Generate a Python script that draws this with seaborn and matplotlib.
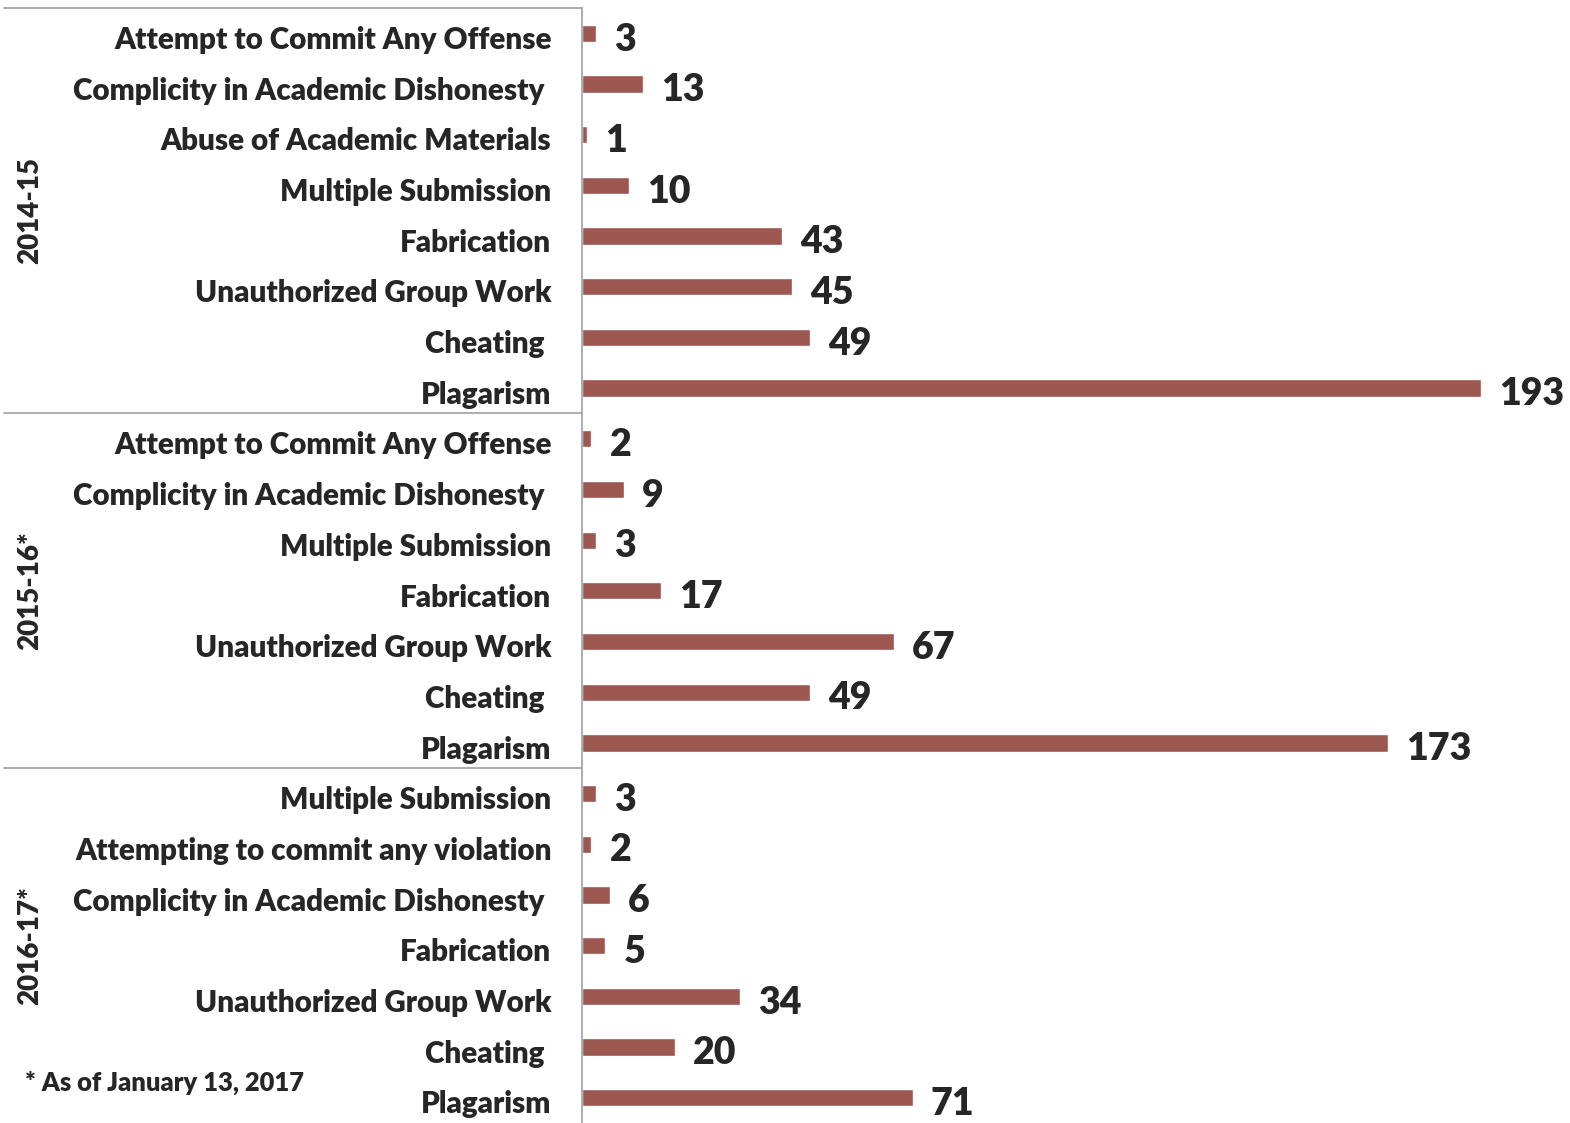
import pandas as pd
import matplotlib.pyplot as plt
import matplotlib.transforms as mtransforms
import seaborn as sns

# data, top to bottom
years = ['2014-15', '2015-16*', '2016-17*']
labels_1415 = ['Attempt to Commit Any Offense', 'Complicity in Academic Dishonesty ', 'Abuse of Academic Materials',
               'Multiple Submission', 'Fabrication', 'Unauthorized Group Work', 'Cheating ', 'Plagarism']
values_1415 = [3, 13, 1, 10, 43, 45, 49, 193]
labels_1516 = ['Attempt to Commit Any Offense', 'Complicity in Academic Dishonesty ', 'Multiple Submission',
               'Fabrication', 'Unauthorized Group Work', 'Cheating ', 'Plagarism']
values_1516 = [2, 9, 3, 17, 67, 49, 173]
labels_1617 = ['Multiple Submission', 'Attempting to commit any violation', 'Complicity in Academic Dishonesty ',
               'Fabrication', 'Unauthorized Group Work', 'Cheating ', 'Plagarism']
values_1617 = [3, 2, 6, 5, 34, 20, 71]
footnote = '* As of January 13, 2017'

labels = labels_1415 + labels_1516 + labels_1617
values = values_1415 + values_1516 + values_1617
groups = [years[0]] * len(labels_1415) + [years[1]] * len(labels_1516) + [years[2]] * len(labels_1617)
df = pd.DataFrame({'row': [str(i) for i in range(len(labels))], 'label': labels,
                   'value': values, 'year': groups})

sns.set_style('white')
plt.rcParams['font.family'] = ['Lato', 'DejaVu Sans']
W = 'heavy'

fig = plt.figure(figsize=(15.7, 11.23), dpi=100)
ax = fig.add_axes([582 / 1570, 0, 1 - 582 / 1570, 1 - 8 / 1123])

sns.barplot(data=df, x='value', y='row', orient='h', color='#A84C45', width=0.34, ax=ax)
ax.set_xlim(0, 212)
ax.set_ylim(len(labels) - 0.5, -0.5)
ax.set_xlabel('')
ax.set_ylabel('')
ax.set_xticks([])
ax.set_yticks(range(len(labels)))
ax.set_yticklabels(labels, fontsize=21.3, fontweight=W)
ax.tick_params(axis='y', length=0, pad=22)
shift = mtransforms.ScaledTranslation(0, -3 / 72, fig.dpi_scale_trans)
for t in ax.get_yticklabels():
    t.set_transform(t.get_transform() + shift)
for s in ['top', 'right', 'bottom']:
    ax.spines[s].set_visible(False)
ax.spines['left'].set_color('#A0A0A0')
ax.spines['left'].set_linewidth(1.2)

for i, v in enumerate(values):
    ax.annotate(str(v), xy=(v, i), xytext=(13, -4.5), textcoords='offset points',
                ha='left', va='center', fontsize=27, fontweight=W)

# group separators and year labels
trans = mtransforms.blended_transform_factory(fig.transFigure, ax.transData)
sizes = [len(labels_1415), len(labels_1516), len(labels_1617)]
start = 0
for yr, n in zip(years, sizes):
    ax.plot([4 / 1570, 582 / 1570], [start - 0.5, start - 0.5], transform=trans,
            color='#A0A0A0', lw=1.2, clip_on=False)
    ax.text(30 / 1570, start + (n - 1) / 2, yr, transform=trans, rotation=90,
            ha='center', va='center', fontsize=20, fontweight=W)
    start += n

fig.text(25 / 1570, 1 - 1083 / 1123, footnote, ha='left', va='center', fontsize=18.4, fontweight=W)

fig.savefig('out.png', dpi=100)
